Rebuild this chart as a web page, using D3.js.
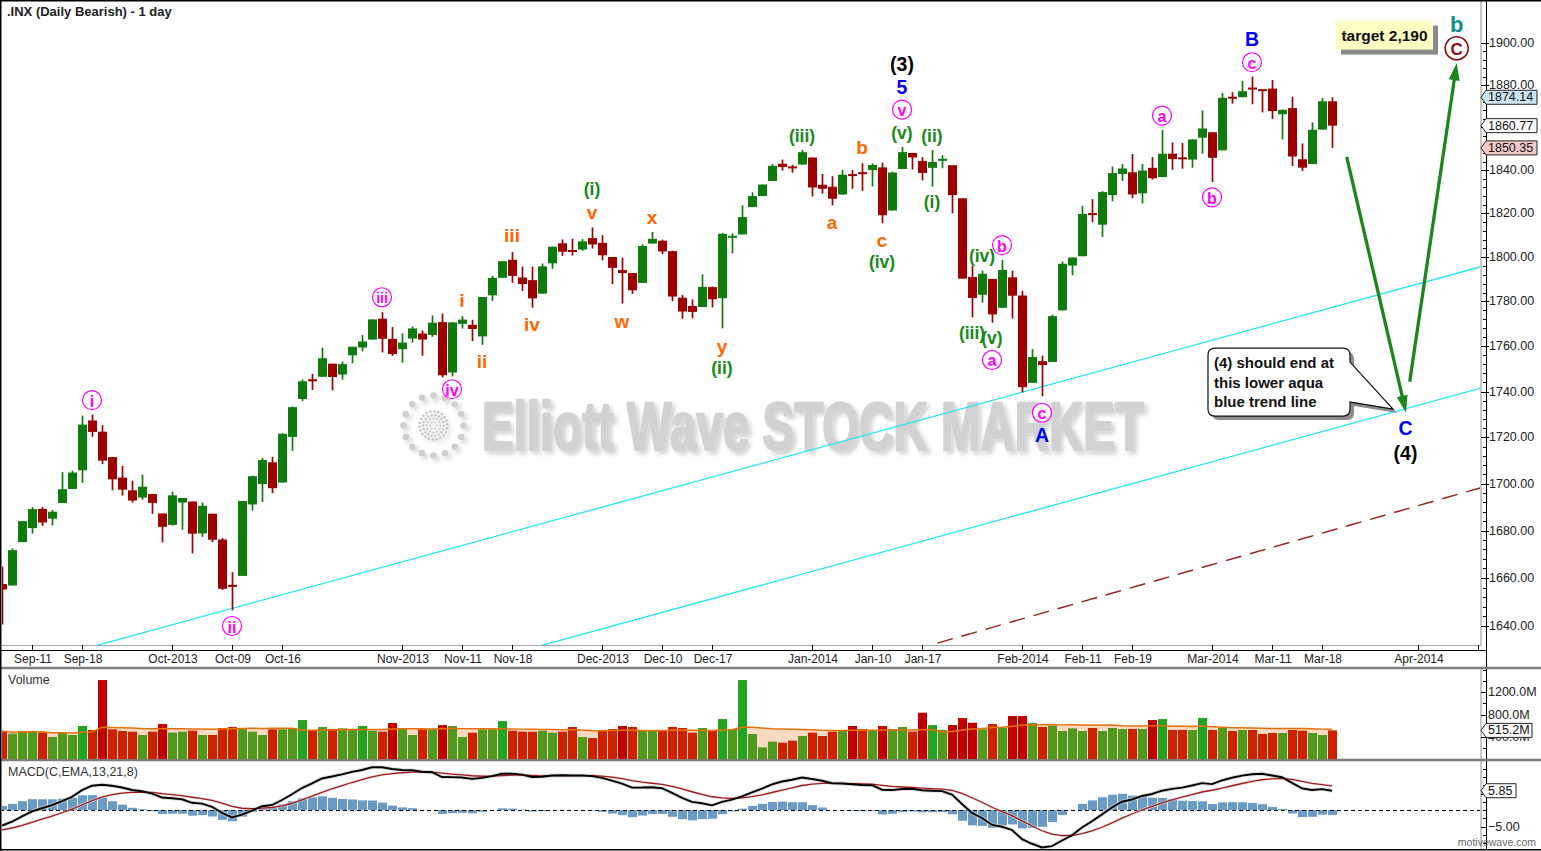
<!DOCTYPE html>
<html><head><meta charset="utf-8">
<script src="https://cdn.jsdelivr.net/npm/d3@7"></script>
<style>
html,body{margin:0;padding:0;background:#fff;overflow:hidden}
svg{display:block}
text{font-family:"Liberation Sans",Arial,Helvetica,sans-serif}
</style>
</head><body>
<svg id="chart" width="1541" height="851"></svg>
<script>
// ---------------- DATA ----------------
const title = ".INX (Daily Bearish) - 1 day";
const dates = [
"2013-09-06","2013-09-09","2013-09-10","2013-09-11","2013-09-12","2013-09-13","2013-09-16","2013-09-17","2013-09-18","2013-09-19","2013-09-20","2013-09-23","2013-09-24","2013-09-25","2013-09-26","2013-09-27","2013-09-30",
"2013-10-01","2013-10-02","2013-10-03","2013-10-04","2013-10-07","2013-10-08","2013-10-09","2013-10-10","2013-10-11","2013-10-14","2013-10-15","2013-10-16","2013-10-17","2013-10-18","2013-10-21","2013-10-22","2013-10-23","2013-10-24","2013-10-25","2013-10-28","2013-10-29","2013-10-30","2013-10-31",
"2013-11-01","2013-11-04","2013-11-05","2013-11-06","2013-11-07","2013-11-08","2013-11-11","2013-11-12","2013-11-13","2013-11-14","2013-11-15","2013-11-18","2013-11-19","2013-11-20","2013-11-21","2013-11-22","2013-11-25","2013-11-26","2013-11-27","2013-11-29",
"2013-12-02","2013-12-03","2013-12-04","2013-12-05","2013-12-06","2013-12-09","2013-12-10","2013-12-11","2013-12-12","2013-12-13","2013-12-16","2013-12-17","2013-12-18","2013-12-19","2013-12-20","2013-12-23","2013-12-24","2013-12-26","2013-12-27","2013-12-30","2013-12-31",
"2014-01-02","2014-01-03","2014-01-06","2014-01-07","2014-01-08","2014-01-09","2014-01-10","2014-01-13","2014-01-14","2014-01-15","2014-01-16","2014-01-17","2014-01-21","2014-01-22","2014-01-23","2014-01-24","2014-01-27","2014-01-28","2014-01-29","2014-01-30","2014-01-31",
"2014-02-03","2014-02-04","2014-02-05","2014-02-06","2014-02-07","2014-02-10","2014-02-11","2014-02-12","2014-02-13","2014-02-14","2014-02-18","2014-02-19","2014-02-20","2014-02-21","2014-02-24","2014-02-25","2014-02-26","2014-02-27","2014-02-28",
"2014-03-03","2014-03-04","2014-03-05","2014-03-06","2014-03-07","2014-03-10","2014-03-11","2014-03-12","2014-03-13","2014-03-14","2014-03-17","2014-03-18","2014-03-19"];

const open = [1657.44,1656.85,1675.11,1681.04,1689.21,1685.04,1691.70,1697.73,1705.74,1727.34,1722.44,1711.44,1702.60,1697.14,1694.05,1695.52,1687.26,
1682.41,1691.90,1692.35,1678.79,1687.15,1676.22,1656.99,1660.88,1691.09,1699.86,1709.17,1700.49,1720.17,1736.72,1745.20,1746.48,1752.27,1747.48,1756.01,1759.42,1762.97,1772.27,1763.24,
1758.70,1763.40,1765.67,1765.00,1770.74,1748.37,1769.96,1769.51,1764.37,1782.75,1790.66,1798.82,1790.79,1789.59,1783.52,1797.21,1806.33,1802.87,1803.48,1808.69,
1806.55,1800.10,1794.15,1792.82,1788.36,1806.21,1807.50,1802.76,1781.71,1777.98,1777.48,1786.47,1781.46,1809.00,1810.39,1822.92,1828.02,1834.96,1842.97,1841.47,1842.61,
1845.86,1833.21,1832.31,1828.71,1837.90,1839.00,1840.06,1841.26,1821.36,1840.52,1847.99,1844.23,1841.05,1844.71,1842.29,1826.96,1791.03,1783.00,1790.15,1777.17,1790.88,
1782.68,1743.82,1753.38,1752.99,1776.01,1796.20,1800.45,1820.12,1814.82,1828.46,1838.22,1838.99,1829.24,1841.07,1836.78,1847.66,1845.79,1844.90,1855.12,
1857.68,1849.23,1874.05,1874.18,1878.52,1877.86,1878.26,1866.15,1869.06,1845.07,1842.81,1858.92,1872.25];

const high = [1664.83,1672.40,1684.09,1689.97,1689.97,1688.73,1704.95,1705.52,1729.44,1729.86,1725.23,1711.44,1707.63,1701.26,1703.85,1695.52,1687.26,
1696.55,1693.87,1692.35,1691.94,1687.15,1676.79,1662.40,1692.56,1703.44,1711.03,1711.57,1721.76,1733.45,1745.31,1747.79,1759.33,1752.27,1753.19,1759.82,1764.99,1772.09,1775.22,1768.53,
1765.67,1768.78,1767.03,1773.74,1774.54,1770.78,1773.44,1771.78,1782.00,1791.53,1798.22,1802.33,1795.73,1795.73,1797.16,1804.84,1808.10,1808.42,1808.27,1813.55,
1810.02,1800.10,1799.80,1792.82,1805.95,1811.52,1808.00,1802.97,1782.99,1780.92,1792.22,1786.77,1811.08,1810.88,1823.75,1829.75,1833.32,1842.84,1844.89,1842.47,1849.44,
1845.86,1838.24,1837.16,1840.10,1840.02,1843.23,1843.15,1843.45,1839.26,1850.84,1847.99,1846.04,1849.31,1846.87,1842.29,1826.96,1795.98,1793.87,1790.15,1798.77,1793.88,
1784.83,1758.73,1755.79,1774.06,1798.03,1799.94,1823.54,1826.55,1830.25,1841.65,1842.87,1847.50,1842.79,1846.13,1858.71,1852.91,1852.65,1854.53,1867.92,
1857.68,1876.23,1876.53,1881.94,1883.97,1877.87,1882.35,1868.38,1874.40,1852.44,1862.30,1873.76,1874.14];

const low = [1640.62,1656.85,1675.11,1678.70,1681.96,1682.22,1691.70,1697.73,1700.35,1720.20,1708.40,1697.10,1694.90,1691.88,1693.11,1687.11,1674.99,
1682.07,1680.34,1670.36,1677.33,1674.99,1655.03,1646.47,1660.88,1688.48,1692.13,1695.93,1700.49,1714.12,1735.74,1740.67,1746.48,1740.50,1745.24,1752.45,1757.67,1762.97,1757.24,1755.72,
1752.70,1761.56,1755.76,1764.23,1746.20,1746.63,1767.85,1762.29,1760.64,1780.22,1790.66,1788.39,1784.72,1777.23,1783.52,1794.70,1800.58,1800.77,1802.94,1803.98,
1798.60,1787.85,1779.09,1783.38,1788.36,1806.21,1801.42,1780.09,1772.28,1772.45,1777.48,1777.32,1767.99,1801.72,1810.39,1822.92,1828.02,1834.96,1839.81,1838.77,1842.41,
1827.74,1829.13,1823.73,1828.71,1831.40,1830.38,1832.43,1815.52,1821.36,1840.52,1840.30,1835.23,1832.38,1840.88,1820.06,1790.29,1772.88,1779.49,1770.45,1777.17,1772.36,
1739.66,1743.82,1737.92,1752.99,1776.01,1791.83,1800.41,1815.97,1809.22,1825.59,1835.01,1826.99,1824.58,1835.60,1836.78,1840.19,1840.66,1841.13,1847.67,
1834.44,1849.23,1871.11,1874.18,1870.86,1867.04,1863.88,1854.38,1841.86,1839.57,1842.81,1858.92,1850.35];

const close = [1655.17,1671.71,1683.99,1689.13,1683.42,1687.99,1697.60,1704.76,1725.52,1722.34,1709.91,1701.84,1697.42,1692.77,1698.67,1691.75,1681.55,
1695.00,1693.87,1678.66,1690.50,1676.12,1655.45,1656.40,1692.56,1703.20,1710.14,1698.06,1721.54,1733.15,1744.50,1744.66,1754.67,1746.38,1752.07,1759.77,1762.11,1771.95,1763.31,1756.54,
1761.64,1767.93,1762.97,1770.49,1747.15,1770.61,1771.89,1767.69,1782.00,1790.62,1798.18,1791.53,1787.87,1781.37,1795.85,1804.76,1802.48,1802.75,1807.23,1805.81,
1800.90,1795.15,1792.81,1785.03,1805.09,1808.37,1802.62,1782.22,1775.50,1775.32,1786.54,1781.00,1810.65,1809.60,1818.32,1827.99,1833.32,1842.02,1841.40,1841.07,1848.36,
1831.98,1831.37,1826.77,1837.88,1837.49,1838.13,1842.37,1819.20,1838.88,1848.38,1845.89,1838.70,1843.80,1844.86,1828.46,1790.29,1781.56,1792.50,1774.20,1794.19,1782.59,
1741.89,1755.20,1751.64,1773.43,1797.02,1799.84,1819.75,1819.26,1829.83,1838.63,1840.76,1828.75,1839.78,1836.25,1847.61,1845.12,1845.16,1854.29,1859.45,
1845.73,1873.91,1873.81,1877.03,1878.04,1877.17,1867.63,1868.20,1846.34,1841.13,1858.83,1872.25,1860.77];

// volume in millions
const volume = [504,456,504,504,474,396,474,432,594,522,1421,534,504,492,432,492,629,
474,492,510,432,432,558,576,558,492,432,534,534,552,701,510,576,540,552,534,594,510,492,647,
558,432,534,534,611,594,396,474,534,534,683,510,492,492,510,474,492,576,396,378,
504,540,594,576,522,504,504,576,558,474,558,522,719,540,1421,450,210,312,294,330,414,
474,414,492,522,594,540,522,594,540,576,492,833,611,522,611,737,653,534,629,558,773,
773,647,576,600,504,552,504,558,504,558,540,540,540,701,719,522,522,522,737,
522,564,504,522,522,450,468,468,522,510,468,432,515.2];

// EMA states before the first bar (read from the left edge of the MACD pane)
const ema13Start = 1657.5, ema21Start = 1662.5, signalStart = -6.27;

const tickDates  = ["2013-09-11","2013-09-18","2013-10-01","2013-10-09","2013-10-16","2013-11-01","2013-11-11","2013-11-18","2013-12-02","2013-12-10","2013-12-17","2014-01-02","2014-01-10","2014-01-17","2014-02-03","2014-02-11","2014-02-19","2014-03-03","2014-03-11","2014-03-18"];
const tickLabels = ["Sep-11","Sep-18","Oct-2013","Oct-09","Oct-16","Nov-2013","Nov-11","Nov-18","Dec-2013","Dec-10","Dec-17","Jan-2014","Jan-10","Jan-17","Feb-2014","Feb-11","Feb-19","Mar-2014","Mar-11","Mar-18"];
const futureTicks = [{label:"Apr-2014", bar:141.6}, {label:"", bar:147.6}];
const priceTicks = d3.range(1640, 1901, 20);
const volumeTicks = [400, 800, 1200];
const macdTicks = [-5, 5];

// wave labels: text, bar index, price, colour group, kind
const waveLabels = [
 ["i",9,1736.2,"mag","circle"],["ii",23,1640.0,"mag","circle"],["iii",38,1781.9,"mag","circle"],["iv",45,1741.0,"mag","circle"],
 ["i",46,1780.6,"orange"],["ii",48,1753.1,"orange"],["iii",51,1809.7,"orange"],["iv",53,1769.9,"orange"],
 ["(i)",59,1831.1,"green"],["v",59,1820.6,"orange"],["w",62,1771.2,"orange"],["x",65,1818.2,"orange"],
 ["y",72,1759.7,"orange"],["(ii)",72,1750.2,"green"],["(iii)",80,1855.9,"green"],["a",83,1815.7,"orange"],
 ["b",86,1850.4,"orange"],["c",88,1807.8,"orange"],["(iv)",88,1797.7,"green"],["(v)",90,1857.5,"green"],
 ["v",90,1868.3,"mag","circle"],["5",90,1878.9,"blue"],["(3)",90,1889.8,"black"],
 ["(ii)",93,1855.9,"green"],["(i)",93,1825.1,"green"],["(iii)",97,1765.7,"green"],["(iv)",98,1800.5,"green"],
 ["b",100,1805.5,"mag","circle"],["(v)",99,1763.5,"green"],["a",99,1753.9,"mag","circle"],
 ["c",104,1730.7,"mag","circle"],["A",104,1721.0,"blue"],
 ["a",116,1865.5,"mag","circle"],["b",121,1827.4,"mag","circle"],["c",125,1890.8,"mag","circle"],["B",125,1901.9,"blue"],
 ["C",140.35,1723.9,"blue"],["(4)",140.35,1713.1,"black"],["b",145.47,1909.1,"teal"],["C",145.47,1897.5,"darkred","circle"]
];

const upperTrend = [[23,1647.3],[102,1739.66]];
const lowerTrend = [[60,1638.8],[140,1732.0]];
const dashedTrend = [[93,1632.3],[148,1698.4]];
const downArrow = [[134.47,1846.2],[140.4,1730.8]];
const upArrow = [[140.77,1744.3],[145.47,1890.3]];
const calloutTip = [139.1,1732.3];
const calloutLines = ["(4) should end at","this lower aqua","blue trend line"];
const targetAnchor = [138.25,1903.8];
const targetText = "target 2,190";
const watermark = "Elliott Wave STOCK MARKET";

// ---------------- CHART ----------------
const svg = d3.select("#chart");
const N = close.length;
const idx = d3.range(N);
const x = d3.scaleLinear().domain([-0.2,147.8]).range([0,1480]);
const y = d3.scaleLog().domain([1640,1900]).range([626,43]);
const yv = d3.scaleLinear().domain([0,1620]).range([759,669]);
const ym = d3.scaleLinear().domain([-11.7,14.5]).range([849,762]);

const UP="#0f7b0f", DN="#9c0000";
const colors = {mag:"#ff00ff",orange:"#ff6600",green:"#168a16",blue:"#0000ff",black:"#000000",teal:"#138c8c",darkred:"#8b1010"};
const sizes = {mag:16,orange:19,green:17.5,blue:19.5,black:19.5,teal:22,darkred:17};

const defs = svg.append("defs");
defs.append("clipPath").attr("id","pclip").append("rect").attr("x",2).attr("y",2).attr("width",1478).attr("height",643);
defs.append("clipPath").attr("id","vclip").append("rect").attr("x",2).attr("y",669).attr("width",1478).attr("height",90);
defs.append("clipPath").attr("id","mclip").append("rect").attr("x",2).attr("y",761).attr("width",1478).attr("height",88);
const f = defs.append("filter").attr("id","wm").attr("x","-5%").attr("y","-20%").attr("width","115%").attr("height","150%");
f.append("feGaussianBlur").attr("in","SourceAlpha").attr("stdDeviation",2.2).attr("result","b");
f.append("feOffset").attr("in","b").attr("dx",3).attr("dy",3).attr("result","o");
f.append("feComponentTransfer").attr("in","o").attr("result","s").append("feFuncA").attr("type","linear").attr("slope",0.18);
const fm = f.append("feMerge"); fm.append("feMergeNode").attr("in","s"); fm.append("feMergeNode").attr("in","SourceGraphic");

svg.append("rect").attr("width",1541).attr("height",851).attr("fill","#fff");

// ---- price panel
const P = svg.append("g").attr("clip-path","url(#pclip)");

// watermark logo + text
const logo = P.append("g").attr("filter","url(#wm)");
const lc = [433.5,425.5];
d3.range(16).forEach(i=>{const a=i/16*2*Math.PI;
  logo.append("circle").attr("cx",lc[0]+30*Math.cos(a)).attr("cy",lc[1]+30*Math.sin(a)).attr("r",3.3).attr("fill","#cfcfcf");});
[[14,22,1.3],[10.5,18,1.2],[7,12,1.1],[3.5,6,1.0]].forEach(([r,n,s])=>{
  d3.range(n).forEach(i=>{const a=i/n*2*Math.PI+r*0.3;
    logo.append("circle").attr("cx",lc[0]+r*Math.cos(a)).attr("cy",lc[1]+r*Math.sin(a)).attr("r",s).attr("fill","#c4c4c4");});});
P.append("text").attr("x",482).attr("y",450).attr("textLength",662).attr("lengthAdjust","spacingAndGlyphs")
 .attr("font-family","'DejaVu Sans Condensed','Liberation Sans Narrow','DejaVu Sans',sans-serif").attr("font-weight","bold")
 .attr("font-size",68).attr("fill","#d2d2d2").attr("stroke","#d2d2d2").attr("stroke-width",2.6).attr("stroke-linejoin","round")
 .attr("filter","url(#wm)").text(watermark);

// trend lines (straight in screen space through two anchor points)
function trend(pts, stroke, w, dash){
  const [a,b]=pts, x1=x(a[0]),y1=y(a[1]),x2=x(b[0]),y2=y(b[1]);
  const m=(y2-y1)/(x2-x1);
  P.append("line").attr("x1",0).attr("y1",y1+m*(0-x1)).attr("x2",1480).attr("y2",y1+m*(1480-x1))
   .attr("stroke",stroke).attr("stroke-width",w).attr("stroke-dasharray",dash||null);
}
trend(upperTrend,"#22e6f6",1.3);
trend(lowerTrend,"#22e6f6",1.3);
trend(dashedTrend,"#9b1c1c",1.4,"16,9");

// candles
const cg = P.append("g");
cg.selectAll("line").data(idx).join("line")
 .attr("x1",i=>x(i)+0.5).attr("x2",i=>x(i)+0.5).attr("y1",i=>y(high[i])).attr("y2",i=>y(low[i]))
 .attr("stroke",i=>close[i]>=open[i]?UP:DN).attr("stroke-width",1.7);
cg.selectAll("rect").data(idx).join("rect")
 .attr("x",i=>x(i)-4).attr("width",9)
 .attr("y",i=>{const t=y(Math.max(open[i],close[i])),b=y(Math.min(open[i],close[i]));return b-t<2?(t+b)/2-1:t;})
 .attr("height",i=>Math.max(2,y(Math.min(open[i],close[i]))-y(Math.max(open[i],close[i]))))
 .attr("fill",i=>close[i]>=open[i]?UP:DN);

// arrows
function arrow(pts){
  const x1=x(pts[0][0]),y1=y(pts[0][1]),x2=x(pts[1][0]),y2=y(pts[1][1]);
  const L=Math.hypot(x2-x1,y2-y1),ux=(x2-x1)/L,uy=(y2-y1)/L,hl=17,hw=5.5;
  const bx=x2-ux*hl,by=y2-uy*hl;
  P.append("line").attr("x1",x1).attr("y1",y1).attr("x2",bx+ux*3).attr("y2",by+uy*3).attr("stroke","#1b861b").attr("stroke-width",3.3);
  P.append("path").attr("d",`M${x2},${y2}L${bx-uy*hw},${by+ux*hw}L${bx+uy*hw},${by-ux*hw}Z`).attr("fill","#1b861b");
}
arrow(downArrow); arrow(upArrow);

// wave labels
const lg = P.append("g");
waveLabels.forEach(([t,b,p,c,kind])=>{
  const cx=x(b), cy=y(p);
  if(kind==="circle"){
    const r = c==="darkred"?11.5:9.5;
    lg.append("circle").attr("cx",cx).attr("cy",cy).attr("r",r).attr("fill","#fff").attr("stroke",colors[c]).attr("stroke-width",c==="darkred"?1.6:1.2);
    lg.append("text").attr("x",cx).attr("y",cy+1).attr("text-anchor","middle").attr("dominant-baseline","central")
      .attr("font-weight","bold").attr("font-size",t.length>2?14:sizes[c]).attr("fill",colors[c]).text(t);
  } else {
    lg.append("text").attr("x",cx).attr("y",cy).attr("text-anchor","middle").attr("dominant-baseline","central")
      .attr("font-weight","bold").attr("font-size",sizes[c]).attr("fill",colors[c]).text(t);
  }
});

// target box
{
  const cx=x(targetAnchor[0]), cy=y(targetAnchor[1]), w=97, h=29;
  P.append("rect").attr("x",cx-w/2+5).attr("y",cy-h/2+5).attr("width",w).attr("height",h).attr("fill","#8a8a8a");
  P.append("rect").attr("x",cx-w/2).attr("y",cy-h/2).attr("width",w).attr("height",h).attr("fill","#ffffc4");
  P.append("text").attr("x",cx).attr("y",cy).attr("text-anchor","middle").attr("dominant-baseline","central")
   .attr("font-weight","bold").attr("font-size",15.5).attr("fill","#111").text(targetText);
}

// callout
{
  const tx=x(calloutTip[0]), ty=y(calloutTip[1]);
  const Lx=tx-185, R=tx-43, T=ty-61, B=ty+7, r=7;
  const d=`M${Lx+r},${T}H${R-r}Q${R},${T} ${R},${T+r}V${ty-47}L${tx},${ty}L${R},${ty-7}V${B-r}Q${R},${B} ${R-r},${B}H${Lx+r}Q${Lx},${B} ${Lx},${B-r}V${T+r}Q${Lx},${T} ${Lx+r},${T}Z`;
  P.append("path").attr("d",d).attr("transform","translate(4,4)").attr("fill","#8c8c8c");
  P.append("path").attr("d",d).attr("fill","#fff").attr("stroke","#111").attr("stroke-width",1.2);
  calloutLines.forEach((s,i)=>P.append("text").attr("x",Lx+6).attr("y",T+20+i*19.5)
     .attr("font-weight","bold").attr("font-size",15).attr("fill","#111").text(s));
}

// title
svg.append("text").attr("x",7).attr("y",16).attr("font-weight","bold").attr("font-size",13).attr("fill","#222").text(title);

// ---- axes frame
const ax = svg.append("g");
ax.append("line").attr("x1",1481).attr("x2",1481).attr("y1",0).attr("y2",646).attr("stroke","#b6b6a6").attr("stroke-width",1.5);
ax.append("line").attr("x1",1486.5).attr("x2",1486.5).attr("y1",0).attr("y2",668).attr("stroke","#000").attr("stroke-width",1);
ax.append("line").attr("x1",0).attr("x2",1481).attr("y1",645.5).attr("y2",645.5).attr("stroke","#a8a8a8").attr("stroke-width",1.2);
ax.append("line").attr("x1",0).attr("x2",1486.5).attr("y1",650.5).attr("y2",650.5).attr("stroke","#000").attr("stroke-width",1);

// price ticks
d3.range(1640,1901,4).forEach(v=>{
  const major = v%20===0;
  ax.append("line").attr("x1",major?1481:1483).attr("x2",major?1489:1486.5).attr("y1",Math.round(y(v))+0.5).attr("y2",Math.round(y(v))+0.5).attr("stroke","#000").attr("stroke-width",1);
});
priceTicks.forEach(v=>ax.append("text").attr("x",1489).attr("y",y(v)).attr("dominant-baseline","central")
  .attr("font-size",12.5).attr("fill","#222").text(d3.format(".2f")(v)));

function valueBox(g, yc, w, txt, fill){
  const x0=1481,h=14;
  g.append("path").attr("d",`M${x0},${yc}L${x0+5},${yc-h/2}H${x0+w}V${yc+h/2}H${x0+5}Z`).attr("fill",fill).attr("stroke","#222").attr("stroke-width",1);
  g.append("text").attr("x",x0+7).attr("y",yc).attr("dominant-baseline","central").attr("font-size",12.5).attr("fill","#111").text(txt);
}
const last=N-1;
valueBox(ax, y(high[last]), 56, d3.format(".2f")(high[last]), "#cde4f3");
valueBox(ax, y(close[last]), 56, d3.format(".2f")(close[last]), "#ffffff");
valueBox(ax, y(low[last]), 56, d3.format(".2f")(low[last]), "#f6c8c8");

// date ticks
const tickBars = tickDates.map(d=>dates.indexOf(d));
const allTicks = tickBars.map((b,i)=>({bar:b,label:tickLabels[i]})).concat(futureTicks);
allTicks.forEach(t=>{
  ax.append("line").attr("x1",x(t.bar)+0.5).attr("x2",x(t.bar)+0.5).attr("y1",645).attr("y2",651).attr("stroke","#000");
  if(t.label) ax.append("text").attr("x",x(t.bar)+1).attr("y",663).attr("text-anchor","middle").attr("font-size",12).attr("fill","#222").text(t.label);
});

// separators
[668,760].forEach(v=>ax.append("line").attr("x1",0).attr("x2",1541).attr("y1",v).attr("y2",v).attr("stroke","#7d7d7d").attr("stroke-width",2.4));

// ---- volume panel
const V = svg.append("g");
const vma = idx.map(i=>d3.mean(volume.slice(Math.max(0,i-19),i+1)));
V.append("path").attr("clip-path","url(#vclip)")
 .attr("d",d3.area().x(i=>x(i)).y0(759).y1(i=>yv(vma[i]))(idx)).attr("fill","#f8d9c2");
V.append("g").attr("clip-path","url(#vclip)").selectAll("rect").data(idx).join("rect")
 .attr("x",i=>x(i)-4).attr("width",9).attr("y",i=>yv(volume[i])).attr("height",i=>759-yv(volume[i]))
 .attr("fill",i=>{const up=close[i]>=open[i], big=volume[i]>vma[i]*1.12; return up?(big?"#22a322":"#4f991c"):(big?"#c00000":"#cc2200");});
V.append("path").attr("d",d3.line().x(i=>x(i)).y(i=>yv(vma[i]))(idx)).attr("fill","none").attr("stroke","#e8700c").attr("stroke-width",1.5);
V.append("text").attr("x",8).attr("y",684).attr("font-size",12.5).attr("fill","#333").text("Volume");
V.append("line").attr("x1",1481).attr("x2",1481).attr("y1",669).attr("y2",759).attr("stroke","#b6b6a6").attr("stroke-width",1.5);
V.append("line").attr("x1",1486.5).attr("x2",1486.5).attr("y1",669).attr("y2",759).attr("stroke","#000");
d3.range(200,1601,200).forEach(v=>V.append("line").attr("x1",volumeTicks.includes(v)?1481:1483).attr("x2",1486.5)
  .attr("y1",Math.round(yv(v))+0.5).attr("y2",Math.round(yv(v))+0.5).attr("stroke","#000"));
volumeTicks.forEach(v=>V.append("text").attr("x",1488).attr("y",yv(v)).attr("dominant-baseline","central").attr("font-size",12.5).attr("fill","#222").text(v.toFixed(1)+"M"));
valueBox(V, yv(volume[last]), 51, volume[last].toFixed(1)+"M", "#fff");

// ---- MACD panel
let e13=ema13Start, e21=ema21Start, sg=signalStart;
const macd=[], signal=[], hist=[];
close.forEach(c=>{e13+= (2/14)*(c-e13); e21+=(2/22)*(c-e21); const m=e13-e21; sg+=(2/9)*(m-sg); macd.push(m); signal.push(sg); hist.push(m-sg);});
const M = svg.append("g");
const Mc = M.append("g").attr("clip-path","url(#mclip)");
Mc.selectAll("rect").data(idx).join("rect")
 .attr("x",i=>x(i)-4).attr("width",9).attr("y",i=>Math.min(ym(hist[i]),ym(0))).attr("height",i=>Math.abs(ym(hist[i])-ym(0)))
 .attr("fill","#6a9bc6");
Mc.append("line").attr("x1",0).attr("x2",1480).attr("y1",Math.round(ym(0))+0.5).attr("y2",Math.round(ym(0))+0.5)
 .attr("stroke","#000").attr("stroke-dasharray","4,3");
const ln = arr=>d3.line().x(i=>x(i)).y(i=>ym(arr[i]))(idx);
Mc.append("path").attr("d",ln(signal)).attr("fill","none").attr("stroke","#ddd").attr("stroke-width",3).attr("opacity",0.6);
Mc.append("path").attr("d",ln(macd)).attr("fill","none").attr("stroke","#ccc").attr("stroke-width",4).attr("opacity",0.6);
Mc.append("path").attr("d",ln(signal)).attr("fill","none").attr("stroke","#a31818").attr("stroke-width",1.3);
Mc.append("path").attr("d",ln(macd)).attr("fill","none").attr("stroke","#000").attr("stroke-width",1.9);
M.append("text").attr("x",8).attr("y",776).attr("font-size",12.5).attr("fill","#333").text("MACD(C,EMA,13,21,8)");
M.append("line").attr("x1",1481).attr("x2",1481).attr("y1",761).attr("y2",849).attr("stroke","#b6b6a6").attr("stroke-width",1.5);
M.append("line").attr("x1",1486.5).attr("x2",1486.5).attr("y1",761).attr("y2",849).attr("stroke","#000");
d3.range(-10,14.1,2.5).forEach(v=>M.append("line").attr("x1",macdTicks.includes(v)?1481:1483).attr("x2",1486.5)
  .attr("y1",Math.round(ym(v))+0.5).attr("y2",Math.round(ym(v))+0.5).attr("stroke","#000"));
macdTicks.forEach(v=>M.append("text").attr("x",1488).attr("y",ym(v)).attr("dominant-baseline","central").attr("font-size",12.5).attr("fill","#222").text(d3.format(".2f")(v)));
valueBox(M, ym(macd[last]), 35, d3.format(".2f")(macd[last]), "#fff");
M.append("text").attr("x",1536).attr("y",846).attr("text-anchor","end").attr("font-size",10.5).attr("fill","#666").text("motivewave.com");

// outer frame
svg.append("path").attr("d","M0.75,851V0.75H1541M0,849.75H1541").attr("fill","none").attr("stroke","#000").attr("stroke-width",1.5);
</script>
</body></html>
